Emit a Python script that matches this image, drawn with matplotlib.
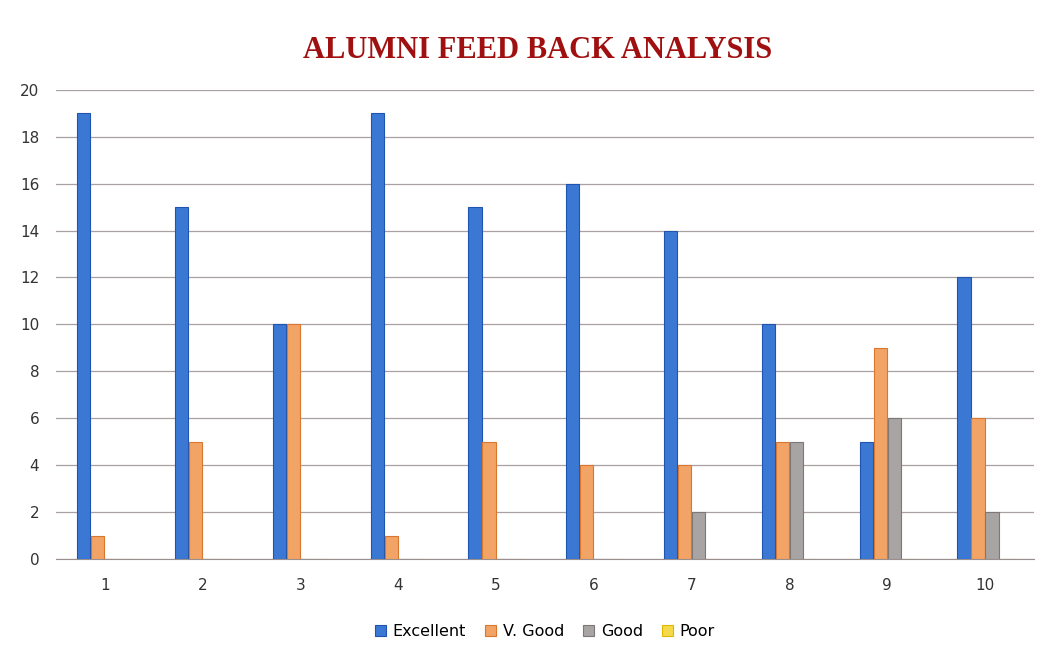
import numpy as np
import matplotlib
matplotlib.use('Agg')
import matplotlib.pyplot as plt

categories = ['1', '2', '3', '4', '5', '6', '7', '8', '9', '10']
excellent = [19, 15, 10, 19, 15, 16, 14, 10, 5, 12]
v_good = [1, 5, 10, 1, 5, 4, 4, 5, 9, 6]
good = [0, 0, 0, 0, 0, 0, 2, 5, 6, 2]
poor = [0, 0, 0, 0, 0, 0, 0, 0, 0, 0]

SERIES = [('Excellent', excellent, '#3a78d4', '#1f55b0'),
          ('V. Good', v_good, '#f2a466', '#d9772e'),
          ('Good', good, '#a8a4a4', '#7d7878'),
          ('Poor', poor, '#f5d94a', '#e0b800')]

fig = plt.figure(figsize=(10.54, 6.6), dpi=100)
ax = fig.add_axes([0.053, 0.153, 0.928, 0.711])

x = np.arange(len(categories))
width = 0.143
for i, (name, vals, color, edge) in enumerate(SERIES):
    ax.bar(x + (i - 1.5) * width, vals, width * 0.95, color=color,
           edgecolor=edge, linewidth=0.8, label=name, zorder=3)

ax.set_xlim(-0.5, len(categories) - 0.5)
ax.set_ylim(0, 20)
ax.set_yticks(range(0, 21, 2))
ax.set_xticks(x)
ax.set_xticklabels(categories)
ax.tick_params(length=0, labelsize=11, colors='#333333')
ax.tick_params(axis='x', pad=14)
ax.tick_params(axis='y', pad=12)
ax.grid(axis='y', color='#aaa0a0', linewidth=0.9, zorder=0)
for s in ['top', 'right', 'left']:
    ax.spines[s].set_visible(False)
ax.spines['bottom'].set_color('#9a8f8f')

fig.text(0.51, 0.924, 'ALUMNI FEED BACK ANALYSIS', ha='center', va='center',
         fontsize=22, fontweight='bold', family='Liberation Serif', color='#a01010')

ax.legend(loc='center', bbox_to_anchor=(0.5, -0.155), ncol=4, frameon=False,
          fontsize=11.5, handlelength=0.7, handleheight=0.7, handletextpad=0.4,
          columnspacing=1.2)

plt.savefig('out.png', dpi=100)
